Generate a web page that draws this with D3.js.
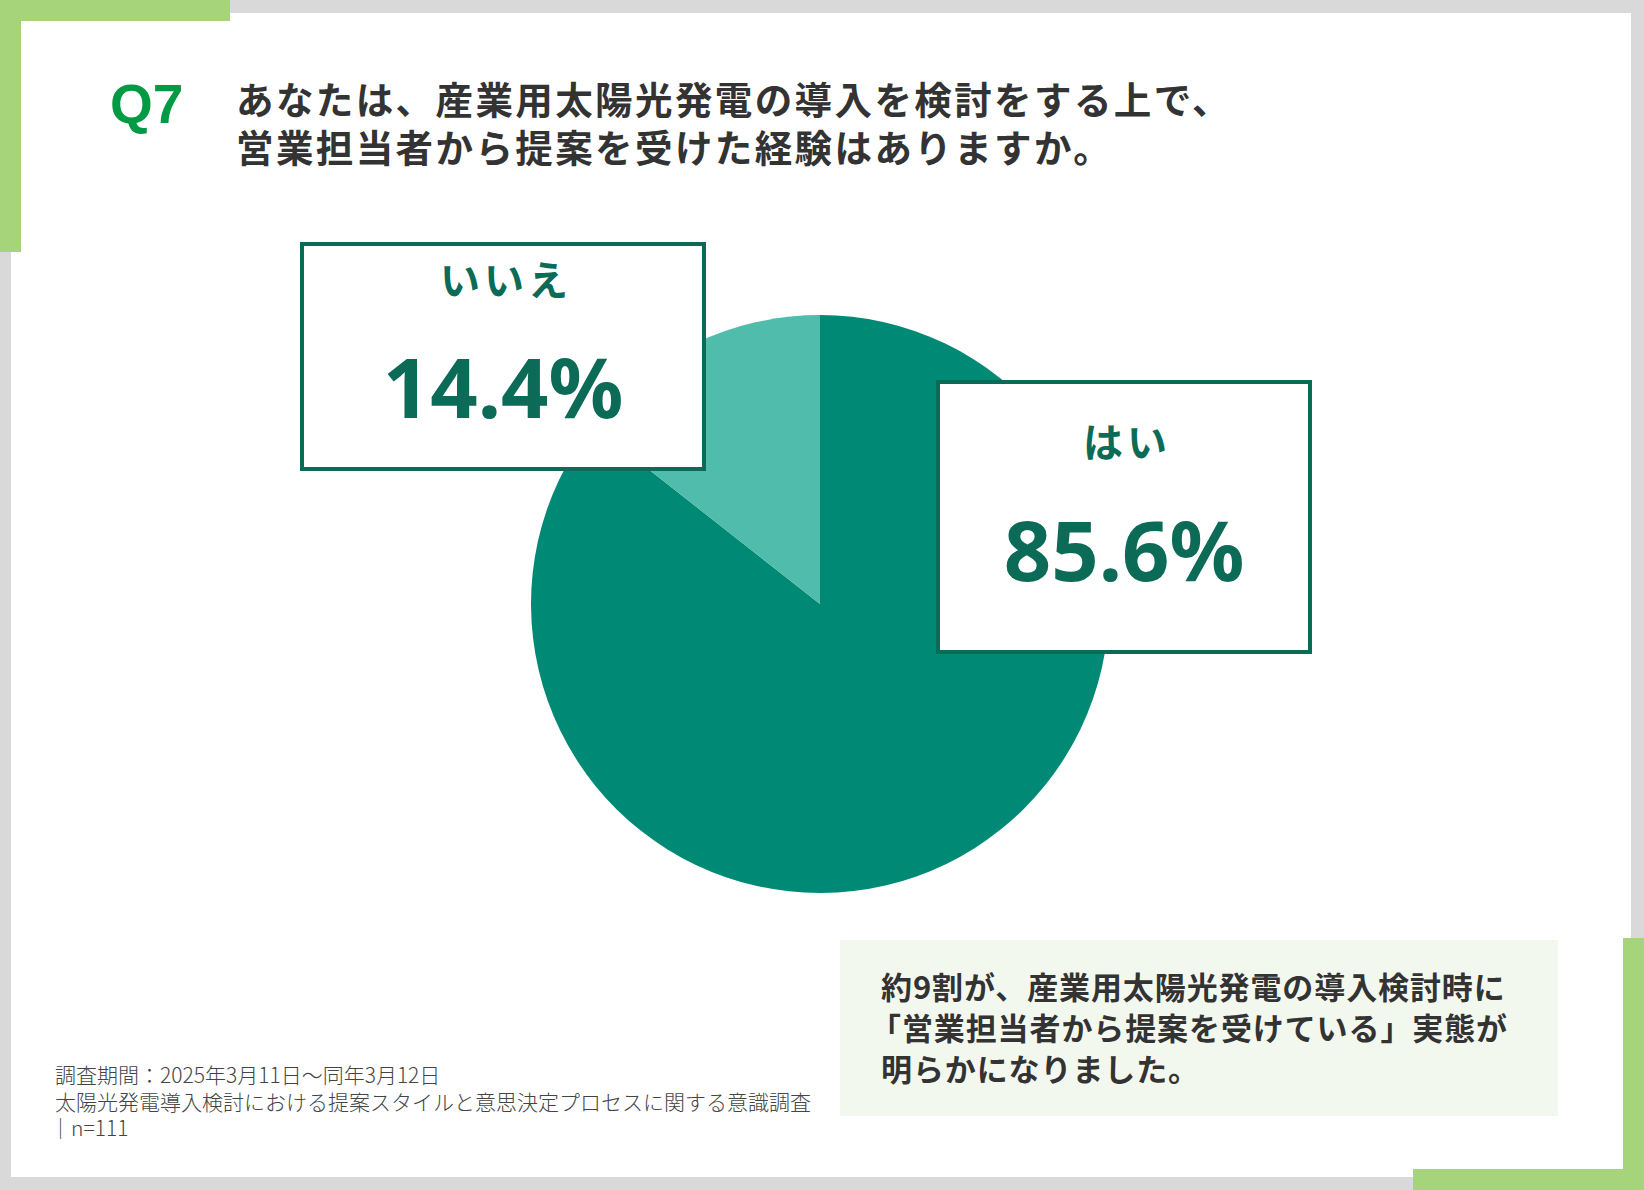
<!DOCTYPE html>
<html lang="ja">
<head>
<meta charset="utf-8">
<script src="https://cdn.jsdelivr.net/npm/d3@7/dist/d3.min.js"></script>
<style>
  body { margin: 0; background: #fff; }
  svg { display: block; }
  text { font-family: "Noto Sans CJK JP", "Noto Sans", sans-serif; }
</style>
</head>
<body>
<svg id="chart" width="1644" height="1190"></svg>
<script>
// data
const categories = ['はい', 'いいえ'];
const values = [85.6, 14.4];
const titleLines = [
    'あなたは、産業用太陽光発電の導入を検討をする上で、',
    '営業担当者から提案を受けた経験はありますか。'
];
const summaryLines = [
    '約9割が、産業用太陽光発電の導入検討時に',
    '「営業担当者から提案を受けている」実態が',
    '明らかになりました。'
];
const noteLines = [
    '調査期間：2025年3月11日～同年3月12日',
    '太陽光発電導入検討における提案スタイルと意思決定プロセスに関する意識調査',
    '｜n=111'
];

const svg = d3.select('#chart');
const frameGreen = '#a6d47a';
const boxGreen = '#0b6b57';

// frame
svg.append('rect').attr('width', 1644).attr('height', 1190).attr('fill', '#d9d9d9');
svg.append('rect').attr('x', 11).attr('y', 13).attr('width', 1620).attr('height', 1164).attr('fill', '#fff');
svg.append('rect').attr('x', 0).attr('y', 0).attr('width', 230).attr('height', 21).attr('fill', frameGreen);
svg.append('rect').attr('x', 0).attr('y', 0).attr('width', 21).attr('height', 252).attr('fill', frameGreen);
svg.append('rect').attr('x', 1623).attr('y', 938).attr('width', 21).attr('height', 252).attr('fill', frameGreen);
svg.append('rect').attr('x', 1413).attr('y', 1169).attr('width', 231).attr('height', 21).attr('fill', frameGreen);

// heading
svg.append('text')
    .attr('x', 110).attr('y', 123)
    .style('font-family', '"Liberation Sans", Arial, sans-serif')
    .attr('font-size', 55).attr('font-weight', 700)
    .attr('fill', '#009a44')
    .text('Q7');

svg.append('text')
    .attr('font-size', 37.5).attr('font-weight', 700)
    .attr('letter-spacing', 2.4)
    .attr('fill', '#333')
    .selectAll('tspan')
    .data(titleLines)
    .enter()
    .append('tspan')
    .attr('x', 236)
    .attr('y', (d, i) => 114 + i * 48)
    .text(d => d);

// pie
const cx = 820, cy = 604, radius = 289;
const color = d3.scaleOrdinal().domain(categories).range(['#008a75', '#50bcab']);
const pie = d3.pie().sort(null).value(d => d.value);
const arc = d3.arc().innerRadius(0).outerRadius(radius);
const pieData = categories.map((c, i) => ({name: c, value: values[i]}));

svg.append('g')
    .attr('transform', `translate(${cx},${cy})`)
    .selectAll('path')
    .data(pie(pieData))
    .enter()
    .append('path')
    .attr('d', arc)
    .attr('fill', d => color(d.data.name));

// label boxes
const boxes = [
    {name: 'はい', x: 938, y: 382, w: 372, h: 270},
    {name: 'いいえ', x: 302, y: 244, w: 402, h: 225}
];
const fmt = v => v.toFixed(1) + '%';

const gBox = svg.append('g').selectAll('g')
    .data(boxes)
    .enter()
    .append('g')
    .attr('transform', d => `translate(${d.x},${d.y})`);

gBox.append('rect')
    .attr('width', d => d.w).attr('height', d => d.h)
    .attr('fill', '#fff')
    .attr('stroke', boxGreen).attr('stroke-width', 4);

gBox.append('text')
    .attr('x', d => d.w / 2 + 3)
    .attr('y', d => d.name == 'はい' ? 75 : 51)
    .attr('text-anchor', 'middle')
    .attr('font-size', 40).attr('font-weight', 700)
    .attr('letter-spacing', 4)
    .attr('fill', boxGreen)
    .text(d => d.name);

gBox.append('text')
    .attr('x', d => d.w / 2)
    .attr('y', d => d.name == 'はい' ? 199 : 174)
    .attr('text-anchor', 'middle')
    .style('font-family', '"Noto Sans", "Open Sans", sans-serif')
    .attr('font-size', 83).attr('font-weight', 700)
    .attr('fill', boxGreen)
    .text(d => fmt(values[categories.indexOf(d.name)]));

// summary
svg.append('rect')
    .attr('x', 840).attr('y', 940).attr('width', 718).attr('height', 176)
    .attr('fill', '#f3f8ee');

svg.append('text')
    .attr('font-size', 31).attr('font-weight', 700)
    .attr('letter-spacing', 0.9)
    .attr('fill', '#333')
    .selectAll('tspan')
    .data(summaryLines)
    .enter()
    .append('tspan')
    .attr('x', d => d.startsWith('「') ? 870 : 881)
    .attr('y', (d, i) => 999 + i * 41)
    .text(d => d);

// footnote
svg.append('text')
    .attr('font-size', 21)
    .attr('font-weight', 300)
    .attr('fill', '#444')
    .selectAll('tspan')
    .data(noteLines)
    .enter()
    .append('tspan')
    .attr('x', d => d.startsWith('｜') ? 50 : 55)
    .attr('y', (d, i) => 1083 + i * 26.5)
    .text(d => d);
</script>
</body>
</html>
